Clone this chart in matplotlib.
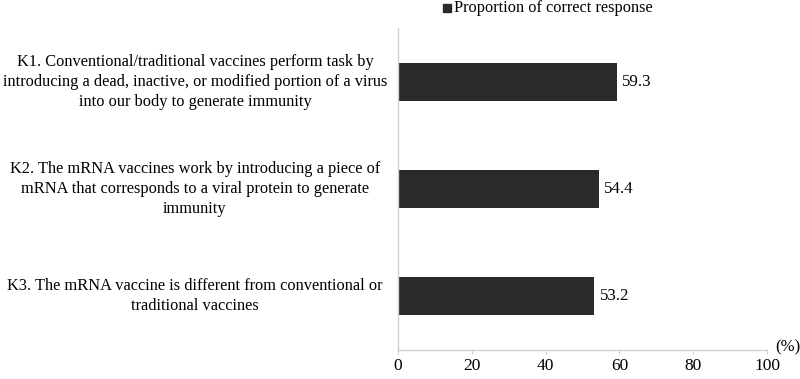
import matplotlib
matplotlib.use("Agg")
import matplotlib.pyplot as plt
from matplotlib.transforms import blended_transform_factory
from matplotlib.patches import Rectangle

categories = [
    "K1. Conventional/traditional vaccines perform task by\nintroducing a dead, inactive, or modified portion of a virus\ninto our body to generate immunity",
    "K2. The mRNA vaccines work by introducing a piece of\nmRNA that corresponds to a viral protein to generate\nimmunity",
    "K3. The mRNA vaccine is different from conventional or\ntraditional vaccines",
]
values = [59.3, 54.4, 53.2]
series_name = "Proportion of correct response"
xticks = [0, 20, 40, 60, 80, 100]

plt.rcParams['font.family'] = ['Liberation Serif', 'DejaVu Serif']

fig = plt.figure(figsize=(8, 3.79), dpi=100)
ax = fig.add_axes([398/800, 1-350/379, (767-398)/800, (350-28)/379])

bar_color = '#2a2a2a'
ypos = list(range(len(categories)))
ax.barh(ypos, values, height=0.355, color=bar_color, zorder=2)
ax.set_ylim(len(categories)-0.5, -0.5)
ax.set_xlim(0, 100)
ax.set_xticks(xticks)
ax.set_xticklabels([str(t) for t in xticks], fontsize=12.5)
ax.set_yticks([])
for s in ['top', 'right']:
    ax.spines[s].set_visible(False)
for s in ['left', 'bottom']:
    ax.spines[s].set_color('#d0d0d0')
    ax.spines[s].set_linewidth(1.0)
ax.tick_params(axis='x', direction='out', length=3, color='#d0d0d0', pad=3, labelcolor='black')

for y, v in zip(ypos, values):
    ax.annotate(f"{v:.1f}", (v, y), xytext=(4, 0), textcoords='offset points',
                ha='left', va='center', fontsize=12.2)

trans = blended_transform_factory(fig.transFigure, ax.transData)
for y, c in zip(ypos, categories):
    ax.text(195/800, y, c, transform=trans, ha='center', va='center',
            multialignment='center', fontsize=11.8, linespacing=1.32)

ax.text(775/800, 1-347/379, "(%)", transform=fig.transFigure, ha='left', va='center', fontsize=12)

# legend
fig.patches.append(Rectangle((443/800, 1-12/379), 8/800, 8/379, transform=fig.transFigure,
                             color=bar_color, figure=fig))
fig.text(454/800, 1-8/379, series_name, ha='left', va='center', fontsize=11.8)

fig.savefig("out.png", dpi=100)
